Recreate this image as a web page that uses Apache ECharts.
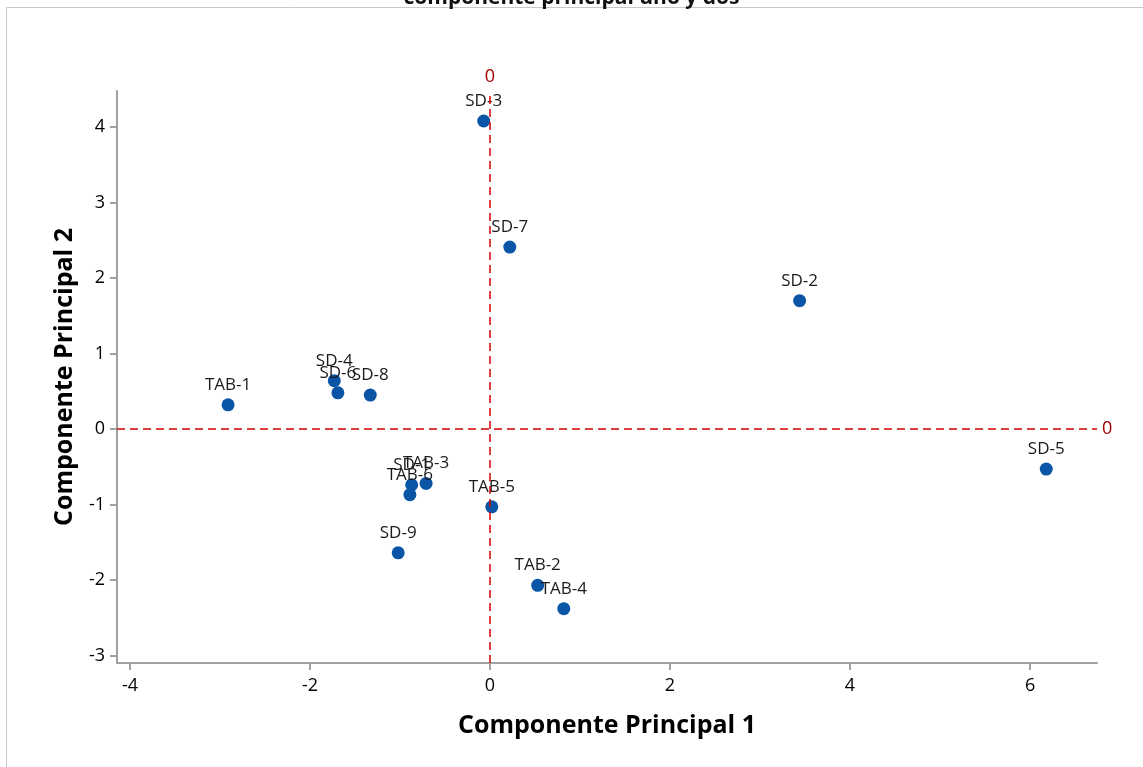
<!DOCTYPE html>
<html>
<head>
<meta charset="utf-8">
<script src="https://cdn.jsdelivr.net/npm/echarts@6/dist/echarts.min.js"></script>
<style>
  html, body { margin: 0; padding: 0; background: #fff; }
  #chart { width: 1143px; height: 767px; }
</style>
</head>
<body>
<div id="chart"></div>
<script>
// Sample names and their scores on the first two principal components
const names = ['SD-3', 'SD-7', 'SD-2', 'SD-5', 'TAB-1', 'SD-4', 'SD-6', 'SD-8',
               'TAB-3', 'SD-1', 'TAB-6', 'TAB-5', 'SD-9', 'TAB-2', 'TAB-4'];
const pc1 = [-0.07, 0.22, 3.44, 6.18, -2.91, -1.73, -1.69, -1.33,
             -0.71, -0.87, -0.89, 0.02, -1.02, 0.53, 0.82];
const pc2 = [4.08, 2.41, 1.70, -0.53, 0.32, 0.64, 0.48, 0.45,
             -0.72, -0.74, -0.87, -1.03, -1.64, -2.07, -2.38];
const xTicks = [-4, -2, 0, 2, 4, 6];
const yTicks = [-3, -2, -1, 0, 1, 2, 3, 4];

const FONT = '"Open Sans", "Noto Sans", sans-serif';
const chart = echarts.init(document.getElementById('chart'), null, { renderer: 'canvas' });

const points = names.map((n, i) => ({ name: n, value: [pc1[i], pc2[i]] }));

chart.setOption({
  animation: false,
  backgroundColor: '#fff',
  title: {
    text: 'componente principal uno y dos',
    left: 'center',
    top: -17,
    textStyle: { fontFamily: FONT, fontSize: 21, fontWeight: 'bold', color: '#111' }
  },
  graphic: [
    { type: 'line', shape: { x1: 6.5, y1: 7.5, x2: 1143, y2: 7.5 }, style: { stroke: '#c8c8c8', lineWidth: 1 } },
    { type: 'line', shape: { x1: 6.5, y1: 7.5, x2: 6.5, y2: 767 }, style: { stroke: '#c8c8c8', lineWidth: 1 } }
  ],
  grid: { left: 117, right: 46, top: 91, bottom: 104, containLabel: false },
  xAxis: {
    type: 'value',
    min: -4.144, max: 6.744,
    name: 'Componente Principal 1',
    nameLocation: 'middle',
    nameGap: 50,
    nameTextStyle: { fontFamily: FONT, fontSize: 25, fontWeight: 'bold', color: '#000' },
    axisLine: { show: true, onZero: false, lineStyle: { color: '#a0a0a0', width: 2 } },
    axisTick: { show: true, length: 7, lineStyle: { color: '#a0a0a0', width: 2 },
                customValues: xTicks },
    axisLabel: { fontFamily: FONT, fontSize: 18, color: '#000', margin: 14,
                 customValues: xTicks, showMinLabel: true, showMaxLabel: true },
    splitLine: { show: false }
  },
  yAxis: {
    type: 'value',
    min: -3.099, max: 4.477,
    name: 'Componente Principal 2',
    nameLocation: 'middle',
    nameGap: 40,
    nameTextStyle: { fontFamily: FONT, fontSize: 25, fontWeight: 'bold', color: '#000' },
    axisLine: { show: true, onZero: false, lineStyle: { color: '#a0a0a0', width: 2 } },
    axisTick: { show: true, length: 7, lineStyle: { color: '#a0a0a0', width: 2 },
                customValues: yTicks },
    axisLabel: { fontFamily: FONT, fontSize: 18, color: '#000', margin: 12,
                 customValues: yTicks },
    splitLine: { show: false }
  },
  series: [{
    type: 'scatter',
    data: points,
    symbol: 'circle',
    symbolSize: 13,
    itemStyle: { color: '#0a55a6', opacity: 1 },
    label: {
      show: true,
      position: 'top',
      distance: 5,
      formatter: p => p.name,
      fontFamily: FONT,
      fontSize: 17,
      color: '#1a1a1a'
    },
    markLine: {
      silent: true,
      symbol: ['none', 'none'],
      lineStyle: { color: '#d40000', type: [8, 5], width: 1.5, opacity: 1 },
      label: {
        show: true,
        position: 'end',
        formatter: '0',
        fontFamily: FONT,
        fontSize: 18,
        color: '#a00000'
      },
      data: [{ xAxis: 0 }, { yAxis: 0 }]
    }
  }]
});
</script>
</body>
</html>
